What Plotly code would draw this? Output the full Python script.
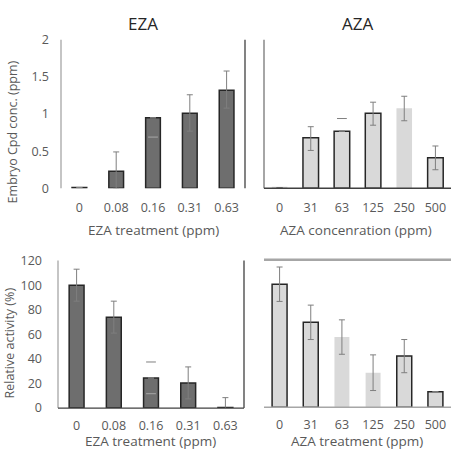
import plotly.graph_objects as go

W, H = 451, 472

# ---- data ----
eza_cats = ["0", "0.08", "0.16", "0.31", "0.63"]
aza_cats = ["0", "31", "63", "125", "250", "500"]

eza_conc = [0.01, 0.23, 0.95, 1.01, 1.32]
eza_conc_err_up = [0, 0.26, 0, 0.25, 0.26]
eza_conc_err_dn = [0, 0.23, 0, 0.24, 0.24]
eza_conc_dash = [None, None, 0.69, None, None]

aza_conc = [0.01, 0.68, 0.77, 1.01, 1.08, 0.41]
aza_conc_err_up = [0, 0.15, 0, 0.15, 0.16, 0.16]
aza_conc_err_dn = [0, 0.17, 0, 0.16, 0.17, 0.16]
aza_conc_dash = [None, None, 0.94, None, None, None]

eza_act = [100, 74, 24.5, 20.5, 0.5]
eza_act_err = [13, 13, 0, 13, 8]
eza_act_dash_hi = [None, None, 37.5, None, None]
eza_act_dash_lo = [None, None, 11.7, None, None]

aza_act = [100, 69, 57, 28, 41.5, 12.5]
aza_act_err = [14, 14, 14, 14.5, 13.5, 0]

aza_top_outline = [0, 1.5, 1.5, 1.5, 0, 1.5]
aza_bot_outline = [1.5, 1.5, 0, 0, 1.5, 1.5]

DARK = "#6e6e6e"
LIGHT = "#d9d9d9"
EDGE = "#262626"
ERR = "#7f7f7f"
ERR_IN = "#a8a8a8"
FONT = "Open Sans"
TICK = "#595959"


def px_x(p):
    return p / W


def px_y(p):
    return (H - p) / H


fig = go.Figure()

fig.add_trace(go.Bar(
    x=eza_cats, y=eza_conc, xaxis="x", yaxis="y", width=0.4,
    marker=dict(color=DARK, line=dict(color=EDGE, width=1.5)),
    error_y=dict(type="data", symmetric=False, array=eza_conc_err_up,
                 arrayminus=eza_conc_err_dn, color=ERR, thickness=1, width=3),
))
fig.add_trace(go.Bar(
    x=aza_cats, y=aza_conc, xaxis="x2", yaxis="y2", width=0.5,
    marker=dict(color=LIGHT, line=dict(color=EDGE, width=aza_top_outline)),
    error_y=dict(type="data", symmetric=False, array=aza_conc_err_up,
                 arrayminus=aza_conc_err_dn, color=ERR, thickness=1, width=3),
))
fig.add_trace(go.Bar(
    x=eza_cats, y=eza_act, xaxis="x3", yaxis="y3", width=0.4,
    marker=dict(color=DARK, line=dict(color=EDGE, width=1.5)),
    error_y=dict(type="data", array=eza_act_err, color=ERR, thickness=1, width=3),
))
fig.add_trace(go.Bar(
    x=aza_cats, y=aza_act, xaxis="x4", yaxis="y4", width=0.48,
    marker=dict(color=LIGHT, line=dict(color=EDGE, width=aza_bot_outline)),
    error_y=dict(type="data", array=aza_act_err, color=ERR, thickness=1, width=3),
))

# isolated error caps (vertical stems not visible in the source)
for xs, ys, xa, ya, col in [(eza_cats, eza_conc_dash, "x", "y", ERR_IN),
                            (aza_cats, aza_conc_dash, "x2", "y2", ERR),
                            (eza_cats, eza_act_dash_hi, "x3", "y3", ERR),
                            (eza_cats, eza_act_dash_lo, "x3", "y3", ERR_IN)]:
    fig.add_trace(go.Scatter(x=xs, y=ys, xaxis=xa, yaxis=ya, mode="markers",
                             marker=dict(symbol="line-ew", size=7, color=col,
                                         line=dict(color=col, width=1)),
                             hoverinfo="skip"))

top_dom = [px_y(186), px_y(32)]
bot_dom = [px_y(414), px_y(261)]

xcommon = dict(type="category", showgrid=False, zeroline=False, showline=False,
               ticks="", tickfont=dict(family=FONT, size=12.5, color=TICK))

fig.update_layout(
    width=W, height=H, margin=dict(l=0, r=0, t=0, b=0),
    paper_bgcolor="white", plot_bgcolor="white", showlegend=False,
    font=dict(family=FONT, color=TICK),
    xaxis=dict(domain=[px_x(61), px_x(245)], anchor="y", range=[-0.5, 4.5],
               ticklabelstandoff=10, **xcommon),
    xaxis2=dict(domain=[px_x(264), 1.0], anchor="y2", range=[-0.5, 5.5],
                ticklabelstandoff=10, **xcommon),
    xaxis3=dict(domain=[px_x(58), px_x(244)], anchor="y3", range=[-0.5, 4.5],
                ticklabelstandoff=8, **xcommon),
    xaxis4=dict(domain=[px_x(264), 1.0], anchor="y4", range=[-0.5, 5.5],
                ticklabelstandoff=8, **xcommon),
    yaxis=dict(domain=top_dom, anchor="x", range=[0, 2], tickvals=[0, 0.5, 1, 1.5, 2],
               ticktext=["0", "0.5", "1", "1.5", "2"], showgrid=False, zeroline=False,
               showline=False, ticks="", ticklabelstandoff=11,
               tickfont=dict(family=FONT, size=12.5, color=TICK)),
    yaxis2=dict(domain=top_dom, anchor="x2", range=[0, 2], showticklabels=False,
                showgrid=False, zeroline=False, showline=False, ticks=""),
    yaxis3=dict(domain=bot_dom, anchor="x3", range=[0, 120],
                tickvals=[0, 20, 40, 60, 80, 100, 120], showgrid=False, zeroline=False,
                showline=False, ticks="", ticklabelstandoff=15,
                tickfont=dict(family=FONT, size=12.5, color=TICK)),
    yaxis4=dict(domain=[px_y(413), px_y(260)], anchor="x4", range=[0, 120],
                showticklabels=False, showgrid=False, zeroline=False, showline=False,
                ticks=""),
    bargap=0.5,
)

# frame lines
def vline(xref, yref, xpos, color, width):
    fig.add_shape(type="line", xref=xref, yref=yref, x0=xpos, x1=xpos, y0=0, y1=1,
                  line=dict(color=color, width=width), layer="above")


def hline(xref, yref, ypos, color, width):
    fig.add_shape(type="line", xref=xref, yref=yref, x0=0, x1=1, y0=ypos, y1=ypos,
                  line=dict(color=color, width=width), layer="above")

vline("x domain", "y domain", 0, "#a6a6a6", 1.3)
vline("x domain", "y domain", 1, "#404040", 1.3)
vline("x2 domain", "y2 domain", 0, "#a6a6a6", 2)
hline("x2 domain", "y2 domain", 0, "#404040", 1.5)
vline("x3 domain", "y3 domain", 0, "#a6a6a6", 1.3)
vline("x3 domain", "y3 domain", 1, "#404040", 1.3)
hline("x3 domain", "y3 domain", 0, "#404040", 1.3)
hline("x4 domain", "y4 domain", 1, "#a6a6a6", 2.5)
hline("x4 domain", "y4 domain", 0, "#a6a6a6", 1.5)

# text annotations
def ann(text, x, y, size, color=TICK, angle=0):
    fig.add_annotation(text=text, x=px_x(x), y=px_y(y), xref="paper", yref="paper",
                       showarrow=False, textangle=angle, xanchor="center",
                       yanchor="middle", font=dict(family=FONT, size=size, color=color))

ann("EZA", 143, 15, 17, "#262626")
ann("AZA", 357, 15, 17, "#262626")
ann("EZA treatment (ppm)", 153, 229, 13.5)
ann("AZA concenration (ppm)", 356, 229, 13.5)
ann("EZA treatment (ppm)", 150, 448, 13.5)
ann("AZA treatment (ppm)", 357, 448, 13.5)
ann("Embryo Cpd conc. (ppm)", 12, 128, 12.5, angle=-90)
ann("Relative activity (%)", 10, 347, 12.5, angle=-90)

fig.write_html("out.html")
